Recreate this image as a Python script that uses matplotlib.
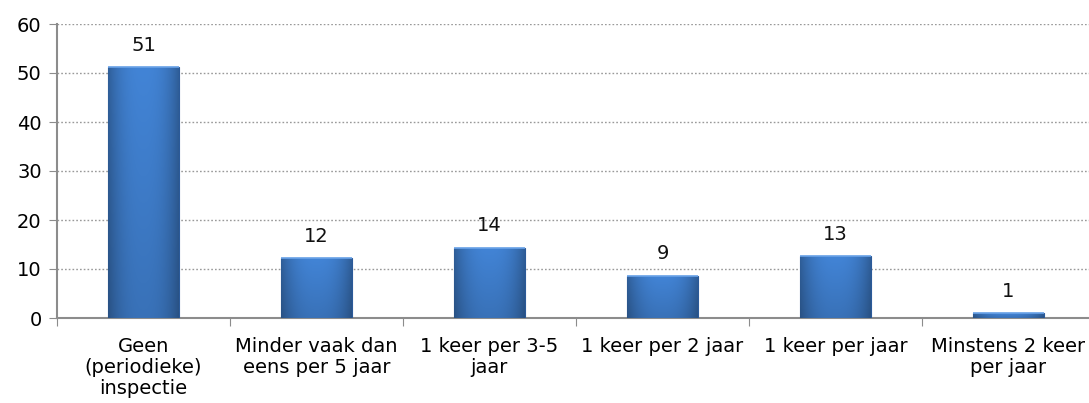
import matplotlib
matplotlib.use("Agg")
import matplotlib.pyplot as plt
import numpy as np

categories = ["Geen\n(periodieke)\ninspectie", "Minder vaak dan\neens per 5 jaar",
              "1 keer per 3-5\njaar", "1 keer per 2 jaar", "1 keer per jaar",
              "Minstens 2 keer\nper jaar"]
values = [51.2, 12.2, 14.3, 8.6, 12.6, 1.0]
labels = ["51", "12", "14", "9", "13", "1"]
yticks = [0, 10, 20, 30, 40, 50, 60]

FS = 14
fig = plt.figure(figsize=(10.89, 4.03), dpi=100)
ax = fig.add_axes([57/1089, 1 - 318/403, (6*173)/1089, 294/403])
ax.set_xlim(-0.5, 5.5)
ax.set_ylim(0, 60)

bars = ax.bar(range(len(values)), values, width=0.405, color="#3b73bf",
              edgecolor="#2b5a99", linewidth=0.8, zorder=3)

# gradient fill: horizontal shading * vertical darkening
xs = np.linspace(-1, 1, 64)
hprof = 1.0 - 0.28 * np.abs(xs) ** 2.5
ys = np.linspace(0, 1, 64)  # 0 bottom, 1 top
vprof = 0.86 + 0.14 * ys
base = np.array([0x42, 0x84, 0xd6]) / 255.0
img = base[None, None, :] * (vprof[:, None, None] * hprof[None, :, None])
img = np.clip(img, 0, 1)
for b in bars:
    x0, y0 = b.get_x(), b.get_y()
    w, h = b.get_width(), b.get_height()
    im = ax.imshow(img, extent=[x0, x0 + w, y0, y0 + h], aspect="auto",
                   zorder=3.5, origin="lower", interpolation="bilinear")
    im.set_clip_path(b)
    ax.plot([x0, x0 + w], [y0 + h, y0 + h], color="#6aa3e8", lw=1.2, zorder=4,
            solid_capstyle="butt")

for i, (v, l) in enumerate(zip(values, labels)):
    ax.annotate(l, (i, v), xytext=(0, 9), textcoords="offset points",
                ha="center", va="bottom", fontsize=FS, color="#111111")

ax.set_yticks(yticks)
ax.set_yticklabels([str(t) for t in yticks], fontsize=FS)
ax.yaxis.grid(True, linestyle=(0, (1.2, 1.5)), color="#999999", linewidth=1.0, zorder=0)
ax.set_axisbelow(True)

ax.set_xticks(np.arange(-0.5, 6, 1))
ax.set_xticklabels([])
ax.set_xticks(range(6), minor=True)
ax.set_xticklabels(categories, minor=True, fontsize=FS, linespacing=1.12)
ax.tick_params(axis="x", which="minor", length=0, pad=14)
ax.tick_params(axis="x", which="major", length=6, color="#8c8c8c", direction="out")
ax.tick_params(axis="y", length=6, color="#8c8c8c", pad=5)

for s in ["top", "right"]:
    ax.spines[s].set_visible(False)
for s in ["left", "bottom"]:
    ax.spines[s].set_color("#8c8c8c")
    ax.spines[s].set_linewidth(1.5)

fig.savefig("out.png", dpi=100)
